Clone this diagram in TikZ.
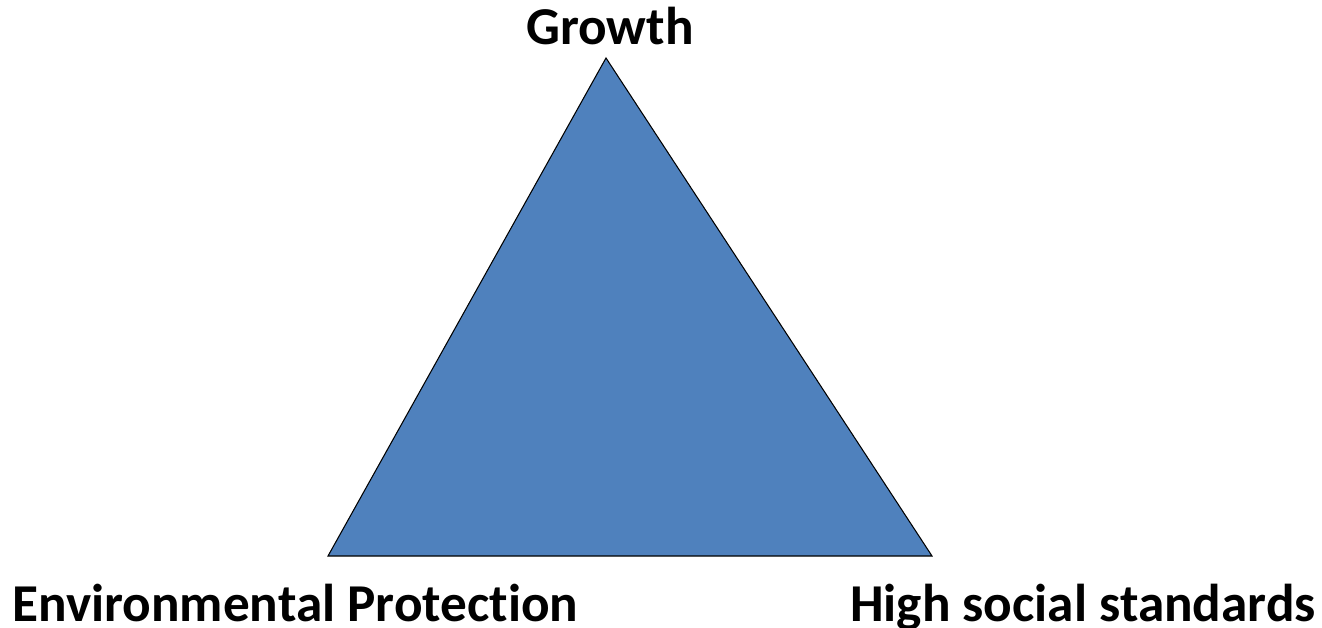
\documentclass[tikz,border=0pt]{standalone}
\usepackage{fontspec}
\setmainfont[Ligatures=NoCommon]{Carlito}
\definecolor{triblue}{HTML}{4F81BD}
\begin{document}
\begin{tikzpicture}[x=0.02cm, y=-0.02cm, every node/.style={font=\bfseries\fontsize{30.3}{36}\selectfont, inner sep=0pt}]
            \useasboundingbox (0,0) rectangle (1322,628);
            % corners of the triangle
            \coordinate (top) at (606,58);
            \coordinate (left) at (328,556);
            \coordinate (right) at (932,556);
            \filldraw[fill=triblue, draw=black, line width=0.6pt, line join=miter] (top) -- (left) -- (right) -- cycle;
            % one label per corner
            \node[anchor=base] (growth) at (610,45) {Growth};
            \node[anchor=base west] (envprot) at (12,621) {Environmental Protection};
            \node[anchor=base east] (social) at (1316,621) {High social standards};
        \end{tikzpicture}
\end{document}
